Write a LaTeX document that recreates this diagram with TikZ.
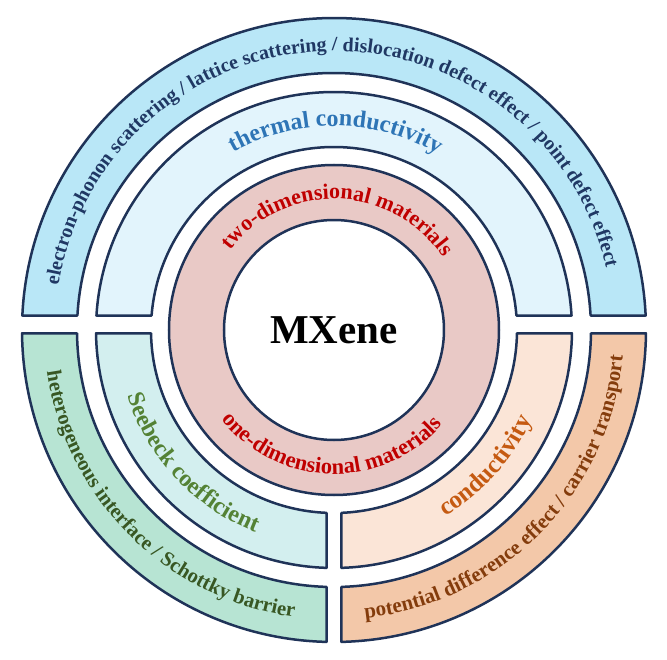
\documentclass[tikz,border=0pt]{standalone}
\usepackage{fontspec}
\setmainfont{Liberation Serif}
\usetikzlibrary{decorations.text}
\definecolor{edge}{HTML}{1F3358}
\definecolor{fOutTop}{HTML}{B9E7F7}
\definecolor{fMidTop}{HTML}{E2F4FC}
\definecolor{fPink}{HTML}{E9C9C6}
\definecolor{fMidLL}{HTML}{D3EFEF}
\definecolor{fOutLL}{HTML}{B7E4D3}
\definecolor{fMidLR}{HTML}{FBE5D7}
\definecolor{fOutLR}{HTML}{F3C8A9}
\definecolor{tOutTop}{HTML}{203864}
\definecolor{tMidTop}{HTML}{2E75B6}
\definecolor{tRed}{HTML}{C00000}
\definecolor{tMidLL}{HTML}{548235}
\definecolor{tOutLL}{HTML}{385723}
\definecolor{tMidLR}{HTML}{C55A11}
\definecolor{tOutLR}{HTML}{843C0C}
\def\gu{14.5}\def\gl{3.3}\def\gx{7.5}
\newcommand\upperseg[3]{%
  \pgfmathsetmacro\aO{asin(\gu/#2)}\pgfmathsetmacro\aI{asin(\gu/#1)}%
  \draw[seg,fill=#3] (\aO:#2pt) arc[start angle={\aO}, end angle={180-\aO}, radius=#2pt]
    -- ({180-\aI}:#1pt) arc[start angle={180-\aI}, end angle={\aI}, radius=#1pt] -- cycle;}
\newcommand\llseg[3]{%
  \pgfmathsetmacro\sO{180+asin(\gl/#2)}\pgfmathsetmacro\eO{270-asin(\gx/#2)}%
  \pgfmathsetmacro\sI{180+asin(\gl/#1)}\pgfmathsetmacro\eI{270-asin(\gx/#1)}%
  \draw[seg,fill=#3] (\sO:#2pt) arc[start angle={\sO}, end angle={\eO}, radius=#2pt]
    -- (\eI:#1pt) arc[start angle={\eI}, end angle={\sI}, radius=#1pt] -- cycle;}
\newcommand\lrseg[3]{%
  \pgfmathsetmacro\sO{270+asin(\gx/#2)}\pgfmathsetmacro\eO{360-asin(\gl/#2)}%
  \pgfmathsetmacro\sI{270+asin(\gx/#1)}\pgfmathsetmacro\eI{360-asin(\gl/#1)}%
  \draw[seg,fill=#3] (\sO:#2pt) arc[start angle={\sO}, end angle={\eO}, radius=#2pt]
    -- (\eI:#1pt) arc[start angle={\eI}, end angle={\sI}, radius=#1pt] -- cycle;}
\newcommand\toptext[5]{%
  \path[decorate, decoration={text along path, text align=center, text color=#3,
    text={|\fontsize{#4}{#4}\selectfont\bfseries|#5}}]
    ({#2+95}:#1pt) arc[start angle={#2+95}, end angle={#2-95}, radius=#1pt];}
\newcommand\bottext[5]{%
  \path[decorate, decoration={text along path, text align=center, text color=#3,
    text={|\fontsize{#4}{#4}\selectfont\bfseries|#5}}]
    ({#2-95}:#1pt) arc[start angle={#2-95}, end angle={#2+95}, radius=#1pt];}
\begin{document}
\begin{tikzpicture}[x=1pt,y=1pt, seg/.style={draw=edge, line width=2.5pt, line join=round}]
\useasboundingbox (-334,-329) rectangle (333,330);
\fill[white] (-334,-329) rectangle (333,330);
% ring segments
\upperseg{257}{312}{fOutTop}
\upperseg{183}{238}{fMidTop}
\llseg{257}{312}{fOutLL}
\llseg{183}{238}{fMidLL}
\lrseg{257}{312}{fOutLR}
\lrseg{183}{238}{fMidLR}
% core
\draw[seg, fill=fPink] (0,0) circle[radius=165pt];
\draw[seg, fill=white] (0,0) circle[radius=110pt];
\node[font=\fontsize{41}{41}\selectfont\bfseries, inner sep=0pt] (mx) at (0,0) {MXene};
% texts
\toptext{279}{91.8}{tOutTop}{20}{electron-phonon scattering / lattice scattering / dislocation defect effect / point defect effect}
\toptext{204}{89.5}{tMidTop}{24}{thermal conductivity}
\toptext{131}{88}{tRed}{22}{two-dimensional materials}
\bottext{144}{268.75}{tRed}{22.5}{one-dimensional materials}
\bottext{217}{223.2}{tMidLL}{24}{Seebeck coefficient}
\bottext{290}{225.2}{tOutLL}{20.7}{heterogeneous interface / Schottky barrier}
\bottext{217}{318.2}{tMidLR}{25}{conductivity}
\bottext{290}{315.5}{tOutLR}{21}{potential difference effect / carrier transport}
\end{tikzpicture}
\end{document}
